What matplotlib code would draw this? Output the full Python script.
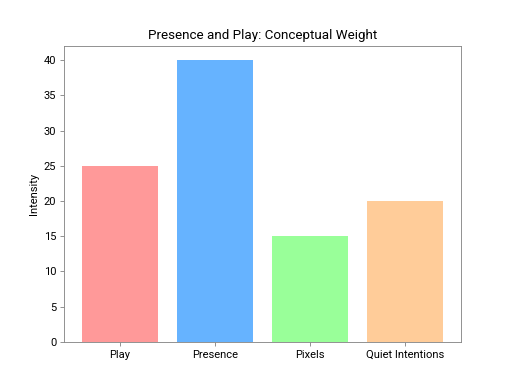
import matplotlib
matplotlib.use("Agg")
import matplotlib.pyplot as plt

plt.rcParams['font.family'] = ['Roboto', 'DejaVu Sans']

categories = ["Play", "Presence", "Pixels", "Quiet Intentions"]
values = [25, 40, 15, 20]
colors = ["#ff9999", "#66b3ff", "#99ff99", "#ffcc99"]

fig, ax = plt.subplots(figsize=(6.4, 4.8), dpi=80)
ax.bar(categories, values, color=colors)
ax.set_title("Presence and Play: Conceptual Weight")
ax.set_ylabel("Intensity")

for spine in ax.spines.values():
    spine.set_color("#888888")
ax.tick_params(colors="#888888", labelcolor="black")

fig.savefig("out.png", dpi=80)
